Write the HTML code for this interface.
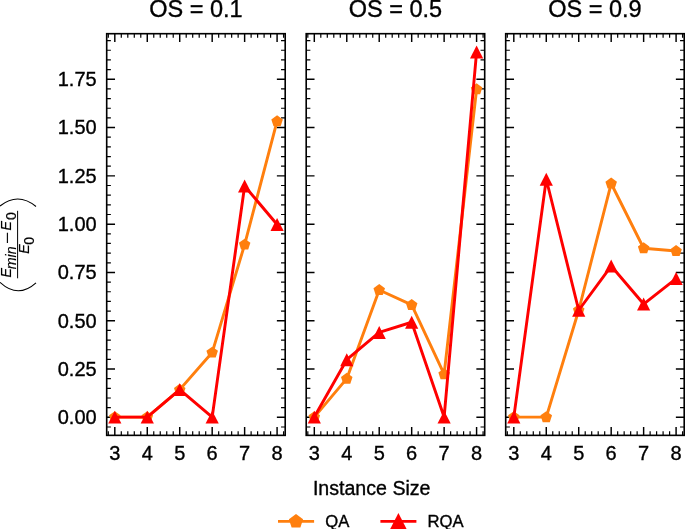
<!DOCTYPE html>
<html><head><meta charset="utf-8"><title>chart</title><style>html,body{margin:0;padding:0;background:#fff}svg{display:block}</style></head><body>
<svg width="685" height="529" viewBox="0 0 685 529">
<rect width="685" height="529" fill="#fff"/>
<clipPath id="c0"><rect x="106.7" y="33.7" width="178.5" height="401.65000000000003"/></clipPath>
<path d="M108.32 435.35v-4.17M108.32 33.7v4.17" stroke="#000" stroke-width="1.2"/><path d="M114.81 435.35v-8.33M114.81 33.7v8.33" stroke="#000" stroke-width="1.45"/><path d="M121.30 435.35v-4.17M121.30 33.7v4.17" stroke="#000" stroke-width="1.2"/><path d="M127.80 435.35v-4.17M127.80 33.7v4.17" stroke="#000" stroke-width="1.2"/><path d="M134.29 435.35v-4.17M134.29 33.7v4.17" stroke="#000" stroke-width="1.2"/><path d="M140.78 435.35v-4.17M140.78 33.7v4.17" stroke="#000" stroke-width="1.2"/><path d="M147.27 435.35v-8.33M147.27 33.7v8.33" stroke="#000" stroke-width="1.45"/><path d="M153.76 435.35v-4.17M153.76 33.7v4.17" stroke="#000" stroke-width="1.2"/><path d="M160.25 435.35v-4.17M160.25 33.7v4.17" stroke="#000" stroke-width="1.2"/><path d="M166.74 435.35v-4.17M166.74 33.7v4.17" stroke="#000" stroke-width="1.2"/><path d="M173.23 435.35v-4.17M173.23 33.7v4.17" stroke="#000" stroke-width="1.2"/><path d="M179.72 435.35v-8.33M179.72 33.7v8.33" stroke="#000" stroke-width="1.45"/><path d="M186.21 435.35v-4.17M186.21 33.7v4.17" stroke="#000" stroke-width="1.2"/><path d="M192.70 435.35v-4.17M192.70 33.7v4.17" stroke="#000" stroke-width="1.2"/><path d="M199.20 435.35v-4.17M199.20 33.7v4.17" stroke="#000" stroke-width="1.2"/><path d="M205.69 435.35v-4.17M205.69 33.7v4.17" stroke="#000" stroke-width="1.2"/><path d="M212.18 435.35v-8.33M212.18 33.7v8.33" stroke="#000" stroke-width="1.45"/><path d="M218.67 435.35v-4.17M218.67 33.7v4.17" stroke="#000" stroke-width="1.2"/><path d="M225.16 435.35v-4.17M225.16 33.7v4.17" stroke="#000" stroke-width="1.2"/><path d="M231.65 435.35v-4.17M231.65 33.7v4.17" stroke="#000" stroke-width="1.2"/><path d="M238.14 435.35v-4.17M238.14 33.7v4.17" stroke="#000" stroke-width="1.2"/><path d="M244.63 435.35v-8.33M244.63 33.7v8.33" stroke="#000" stroke-width="1.45"/><path d="M251.12 435.35v-4.17M251.12 33.7v4.17" stroke="#000" stroke-width="1.2"/><path d="M257.61 435.35v-4.17M257.61 33.7v4.17" stroke="#000" stroke-width="1.2"/><path d="M264.10 435.35v-4.17M264.10 33.7v4.17" stroke="#000" stroke-width="1.2"/><path d="M270.60 435.35v-4.17M270.60 33.7v4.17" stroke="#000" stroke-width="1.2"/><path d="M277.09 435.35v-8.33M277.09 33.7v8.33" stroke="#000" stroke-width="1.45"/><path d="M283.58 435.35v-4.17M283.58 33.7v4.17" stroke="#000" stroke-width="1.2"/><path d="M106.7 427.00h4.17M285.2 427.00h-4.17" stroke="#000" stroke-width="1.2"/><path d="M106.7 417.34h8.33M285.2 417.34h-8.33" stroke="#000" stroke-width="1.45"/><path d="M106.7 407.68h4.17M285.2 407.68h-4.17" stroke="#000" stroke-width="1.2"/><path d="M106.7 398.02h4.17M285.2 398.02h-4.17" stroke="#000" stroke-width="1.2"/><path d="M106.7 388.36h4.17M285.2 388.36h-4.17" stroke="#000" stroke-width="1.2"/><path d="M106.7 378.70h4.17M285.2 378.70h-4.17" stroke="#000" stroke-width="1.2"/><path d="M106.7 369.04h8.33M285.2 369.04h-8.33" stroke="#000" stroke-width="1.45"/><path d="M106.7 359.39h4.17M285.2 359.39h-4.17" stroke="#000" stroke-width="1.2"/><path d="M106.7 349.73h4.17M285.2 349.73h-4.17" stroke="#000" stroke-width="1.2"/><path d="M106.7 340.07h4.17M285.2 340.07h-4.17" stroke="#000" stroke-width="1.2"/><path d="M106.7 330.41h4.17M285.2 330.41h-4.17" stroke="#000" stroke-width="1.2"/><path d="M106.7 320.75h8.33M285.2 320.75h-8.33" stroke="#000" stroke-width="1.45"/><path d="M106.7 311.09h4.17M285.2 311.09h-4.17" stroke="#000" stroke-width="1.2"/><path d="M106.7 301.43h4.17M285.2 301.43h-4.17" stroke="#000" stroke-width="1.2"/><path d="M106.7 291.77h4.17M285.2 291.77h-4.17" stroke="#000" stroke-width="1.2"/><path d="M106.7 282.11h4.17M285.2 282.11h-4.17" stroke="#000" stroke-width="1.2"/><path d="M106.7 272.45h8.33M285.2 272.45h-8.33" stroke="#000" stroke-width="1.45"/><path d="M106.7 262.79h4.17M285.2 262.79h-4.17" stroke="#000" stroke-width="1.2"/><path d="M106.7 253.13h4.17M285.2 253.13h-4.17" stroke="#000" stroke-width="1.2"/><path d="M106.7 243.47h4.17M285.2 243.47h-4.17" stroke="#000" stroke-width="1.2"/><path d="M106.7 233.81h4.17M285.2 233.81h-4.17" stroke="#000" stroke-width="1.2"/><path d="M106.7 224.15h8.33M285.2 224.15h-8.33" stroke="#000" stroke-width="1.45"/><path d="M106.7 214.49h4.17M285.2 214.49h-4.17" stroke="#000" stroke-width="1.2"/><path d="M106.7 204.83h4.17M285.2 204.83h-4.17" stroke="#000" stroke-width="1.2"/><path d="M106.7 195.17h4.17M285.2 195.17h-4.17" stroke="#000" stroke-width="1.2"/><path d="M106.7 185.51h4.17M285.2 185.51h-4.17" stroke="#000" stroke-width="1.2"/><path d="M106.7 175.85h8.33M285.2 175.85h-8.33" stroke="#000" stroke-width="1.45"/><path d="M106.7 166.19h4.17M285.2 166.19h-4.17" stroke="#000" stroke-width="1.2"/><path d="M106.7 156.53h4.17M285.2 156.53h-4.17" stroke="#000" stroke-width="1.2"/><path d="M106.7 146.87h4.17M285.2 146.87h-4.17" stroke="#000" stroke-width="1.2"/><path d="M106.7 137.21h4.17M285.2 137.21h-4.17" stroke="#000" stroke-width="1.2"/><path d="M106.7 127.55h8.33M285.2 127.55h-8.33" stroke="#000" stroke-width="1.45"/><path d="M106.7 117.89h4.17M285.2 117.89h-4.17" stroke="#000" stroke-width="1.2"/><path d="M106.7 108.23h4.17M285.2 108.23h-4.17" stroke="#000" stroke-width="1.2"/><path d="M106.7 98.57h4.17M285.2 98.57h-4.17" stroke="#000" stroke-width="1.2"/><path d="M106.7 88.91h4.17M285.2 88.91h-4.17" stroke="#000" stroke-width="1.2"/><path d="M106.7 79.25h8.33M285.2 79.25h-8.33" stroke="#000" stroke-width="1.45"/><path d="M106.7 69.59h4.17M285.2 69.59h-4.17" stroke="#000" stroke-width="1.2"/><path d="M106.7 59.93h4.17M285.2 59.93h-4.17" stroke="#000" stroke-width="1.2"/><path d="M106.7 50.27h4.17M285.2 50.27h-4.17" stroke="#000" stroke-width="1.2"/><path d="M106.7 40.62h4.17M285.2 40.62h-4.17" stroke="#000" stroke-width="1.2"/>
<g clip-path="url(#c0)"><polyline points="114.81,417.09 147.27,417.09 179.72,389.66 212.18,352.57 244.63,244.57 277.09,121.12" fill="none" stroke="#ff7f0e" stroke-width="2.92" stroke-linejoin="round" stroke-linecap="butt"/><polygon points="114.81,411.19 120.57,415.37 118.37,422.14 111.26,422.14 109.06,415.37" fill="#ff7f0e"/><polygon points="147.27,411.19 153.02,415.37 150.82,422.14 143.71,422.14 141.51,415.37" fill="#ff7f0e"/><polygon points="179.72,383.76 185.48,387.94 183.28,394.70 176.17,394.70 173.97,387.94" fill="#ff7f0e"/><polygon points="212.18,346.67 217.93,350.85 215.73,357.61 208.62,357.61 206.42,350.85" fill="#ff7f0e"/><polygon points="244.63,238.67 250.39,242.85 248.19,249.62 241.08,249.62 238.88,242.85" fill="#ff7f0e"/><polygon points="277.09,115.22 282.84,119.40 280.64,126.16 273.53,126.16 271.33,119.40" fill="#ff7f0e"/><polyline points="114.81,417.09 147.27,417.09 179.72,389.66 212.18,417.09 244.63,186.03 277.09,224.48" fill="none" stroke="#ff0000" stroke-width="2.92" stroke-linejoin="round" stroke-linecap="butt"/><polygon points="114.81,410.64 108.21,423.54 121.41,423.54" fill="#ff0000"/><polygon points="147.27,410.64 140.67,423.54 153.87,423.54" fill="#ff0000"/><polygon points="179.72,383.21 173.12,396.11 186.32,396.11" fill="#ff0000"/><polygon points="212.18,410.64 205.58,423.54 218.78,423.54" fill="#ff0000"/><polygon points="244.63,179.58 238.03,192.48 251.23,192.48" fill="#ff0000"/><polygon points="277.09,218.03 270.49,230.93 283.69,230.93" fill="#ff0000"/></g>
<rect x="106.7" y="33.7" width="178.5" height="401.65000000000003" fill="none" stroke="#000" stroke-width="1.62"/>
<text x="114.81" y="459.7" font-family="Liberation Sans, Arial, Helvetica, sans-serif" stroke="#000" stroke-width="0.35" font-size="20" text-anchor="middle">3</text>
<text x="147.27" y="459.7" font-family="Liberation Sans, Arial, Helvetica, sans-serif" stroke="#000" stroke-width="0.35" font-size="20" text-anchor="middle">4</text>
<text x="179.72" y="459.7" font-family="Liberation Sans, Arial, Helvetica, sans-serif" stroke="#000" stroke-width="0.35" font-size="20" text-anchor="middle">5</text>
<text x="212.18" y="459.7" font-family="Liberation Sans, Arial, Helvetica, sans-serif" stroke="#000" stroke-width="0.35" font-size="20" text-anchor="middle">6</text>
<text x="244.63" y="459.7" font-family="Liberation Sans, Arial, Helvetica, sans-serif" stroke="#000" stroke-width="0.35" font-size="20" text-anchor="middle">7</text>
<text x="277.09" y="459.7" font-family="Liberation Sans, Arial, Helvetica, sans-serif" stroke="#000" stroke-width="0.35" font-size="20" text-anchor="middle">8</text>
<text x="195.95" y="17.3" font-family="Liberation Sans, Arial, Helvetica, sans-serif" stroke="#000" stroke-width="0.35" font-size="23.5" text-anchor="middle">OS = 0.1</text>
<clipPath id="c1"><rect x="306.2" y="33.7" width="178.5" height="401.65000000000003"/></clipPath>
<path d="M307.82 435.35v-4.17M307.82 33.7v4.17" stroke="#000" stroke-width="1.2"/><path d="M314.31 435.35v-8.33M314.31 33.7v8.33" stroke="#000" stroke-width="1.45"/><path d="M320.80 435.35v-4.17M320.80 33.7v4.17" stroke="#000" stroke-width="1.2"/><path d="M327.30 435.35v-4.17M327.30 33.7v4.17" stroke="#000" stroke-width="1.2"/><path d="M333.79 435.35v-4.17M333.79 33.7v4.17" stroke="#000" stroke-width="1.2"/><path d="M340.28 435.35v-4.17M340.28 33.7v4.17" stroke="#000" stroke-width="1.2"/><path d="M346.77 435.35v-8.33M346.77 33.7v8.33" stroke="#000" stroke-width="1.45"/><path d="M353.26 435.35v-4.17M353.26 33.7v4.17" stroke="#000" stroke-width="1.2"/><path d="M359.75 435.35v-4.17M359.75 33.7v4.17" stroke="#000" stroke-width="1.2"/><path d="M366.24 435.35v-4.17M366.24 33.7v4.17" stroke="#000" stroke-width="1.2"/><path d="M372.73 435.35v-4.17M372.73 33.7v4.17" stroke="#000" stroke-width="1.2"/><path d="M379.22 435.35v-8.33M379.22 33.7v8.33" stroke="#000" stroke-width="1.45"/><path d="M385.71 435.35v-4.17M385.71 33.7v4.17" stroke="#000" stroke-width="1.2"/><path d="M392.20 435.35v-4.17M392.20 33.7v4.17" stroke="#000" stroke-width="1.2"/><path d="M398.70 435.35v-4.17M398.70 33.7v4.17" stroke="#000" stroke-width="1.2"/><path d="M405.19 435.35v-4.17M405.19 33.7v4.17" stroke="#000" stroke-width="1.2"/><path d="M411.68 435.35v-8.33M411.68 33.7v8.33" stroke="#000" stroke-width="1.45"/><path d="M418.17 435.35v-4.17M418.17 33.7v4.17" stroke="#000" stroke-width="1.2"/><path d="M424.66 435.35v-4.17M424.66 33.7v4.17" stroke="#000" stroke-width="1.2"/><path d="M431.15 435.35v-4.17M431.15 33.7v4.17" stroke="#000" stroke-width="1.2"/><path d="M437.64 435.35v-4.17M437.64 33.7v4.17" stroke="#000" stroke-width="1.2"/><path d="M444.13 435.35v-8.33M444.13 33.7v8.33" stroke="#000" stroke-width="1.45"/><path d="M450.62 435.35v-4.17M450.62 33.7v4.17" stroke="#000" stroke-width="1.2"/><path d="M457.11 435.35v-4.17M457.11 33.7v4.17" stroke="#000" stroke-width="1.2"/><path d="M463.60 435.35v-4.17M463.60 33.7v4.17" stroke="#000" stroke-width="1.2"/><path d="M470.10 435.35v-4.17M470.10 33.7v4.17" stroke="#000" stroke-width="1.2"/><path d="M476.59 435.35v-8.33M476.59 33.7v8.33" stroke="#000" stroke-width="1.45"/><path d="M483.08 435.35v-4.17M483.08 33.7v4.17" stroke="#000" stroke-width="1.2"/><path d="M306.2 427.00h4.17M484.7 427.00h-4.17" stroke="#000" stroke-width="1.2"/><path d="M306.2 417.34h8.33M484.7 417.34h-8.33" stroke="#000" stroke-width="1.45"/><path d="M306.2 407.68h4.17M484.7 407.68h-4.17" stroke="#000" stroke-width="1.2"/><path d="M306.2 398.02h4.17M484.7 398.02h-4.17" stroke="#000" stroke-width="1.2"/><path d="M306.2 388.36h4.17M484.7 388.36h-4.17" stroke="#000" stroke-width="1.2"/><path d="M306.2 378.70h4.17M484.7 378.70h-4.17" stroke="#000" stroke-width="1.2"/><path d="M306.2 369.04h8.33M484.7 369.04h-8.33" stroke="#000" stroke-width="1.45"/><path d="M306.2 359.39h4.17M484.7 359.39h-4.17" stroke="#000" stroke-width="1.2"/><path d="M306.2 349.73h4.17M484.7 349.73h-4.17" stroke="#000" stroke-width="1.2"/><path d="M306.2 340.07h4.17M484.7 340.07h-4.17" stroke="#000" stroke-width="1.2"/><path d="M306.2 330.41h4.17M484.7 330.41h-4.17" stroke="#000" stroke-width="1.2"/><path d="M306.2 320.75h8.33M484.7 320.75h-8.33" stroke="#000" stroke-width="1.45"/><path d="M306.2 311.09h4.17M484.7 311.09h-4.17" stroke="#000" stroke-width="1.2"/><path d="M306.2 301.43h4.17M484.7 301.43h-4.17" stroke="#000" stroke-width="1.2"/><path d="M306.2 291.77h4.17M484.7 291.77h-4.17" stroke="#000" stroke-width="1.2"/><path d="M306.2 282.11h4.17M484.7 282.11h-4.17" stroke="#000" stroke-width="1.2"/><path d="M306.2 272.45h8.33M484.7 272.45h-8.33" stroke="#000" stroke-width="1.45"/><path d="M306.2 262.79h4.17M484.7 262.79h-4.17" stroke="#000" stroke-width="1.2"/><path d="M306.2 253.13h4.17M484.7 253.13h-4.17" stroke="#000" stroke-width="1.2"/><path d="M306.2 243.47h4.17M484.7 243.47h-4.17" stroke="#000" stroke-width="1.2"/><path d="M306.2 233.81h4.17M484.7 233.81h-4.17" stroke="#000" stroke-width="1.2"/><path d="M306.2 224.15h8.33M484.7 224.15h-8.33" stroke="#000" stroke-width="1.45"/><path d="M306.2 214.49h4.17M484.7 214.49h-4.17" stroke="#000" stroke-width="1.2"/><path d="M306.2 204.83h4.17M484.7 204.83h-4.17" stroke="#000" stroke-width="1.2"/><path d="M306.2 195.17h4.17M484.7 195.17h-4.17" stroke="#000" stroke-width="1.2"/><path d="M306.2 185.51h4.17M484.7 185.51h-4.17" stroke="#000" stroke-width="1.2"/><path d="M306.2 175.85h8.33M484.7 175.85h-8.33" stroke="#000" stroke-width="1.45"/><path d="M306.2 166.19h4.17M484.7 166.19h-4.17" stroke="#000" stroke-width="1.2"/><path d="M306.2 156.53h4.17M484.7 156.53h-4.17" stroke="#000" stroke-width="1.2"/><path d="M306.2 146.87h4.17M484.7 146.87h-4.17" stroke="#000" stroke-width="1.2"/><path d="M306.2 137.21h4.17M484.7 137.21h-4.17" stroke="#000" stroke-width="1.2"/><path d="M306.2 127.55h8.33M484.7 127.55h-8.33" stroke="#000" stroke-width="1.45"/><path d="M306.2 117.89h4.17M484.7 117.89h-4.17" stroke="#000" stroke-width="1.2"/><path d="M306.2 108.23h4.17M484.7 108.23h-4.17" stroke="#000" stroke-width="1.2"/><path d="M306.2 98.57h4.17M484.7 98.57h-4.17" stroke="#000" stroke-width="1.2"/><path d="M306.2 88.91h4.17M484.7 88.91h-4.17" stroke="#000" stroke-width="1.2"/><path d="M306.2 79.25h8.33M484.7 79.25h-8.33" stroke="#000" stroke-width="1.45"/><path d="M306.2 69.59h4.17M484.7 69.59h-4.17" stroke="#000" stroke-width="1.2"/><path d="M306.2 59.93h4.17M484.7 59.93h-4.17" stroke="#000" stroke-width="1.2"/><path d="M306.2 50.27h4.17M484.7 50.27h-4.17" stroke="#000" stroke-width="1.2"/><path d="M306.2 40.62h4.17M484.7 40.62h-4.17" stroke="#000" stroke-width="1.2"/>
<g clip-path="url(#c1)"><polyline points="314.31,417.09 346.77,378.65 379.22,289.97 411.68,304.85 444.13,374.20 476.59,89.24" fill="none" stroke="#ff7f0e" stroke-width="2.92" stroke-linejoin="round" stroke-linecap="butt"/><polygon points="314.31,411.19 320.07,415.37 317.87,422.14 310.76,422.14 308.56,415.37" fill="#ff7f0e"/><polygon points="346.77,372.75 352.52,376.93 350.32,383.69 343.21,383.69 341.01,376.93" fill="#ff7f0e"/><polygon points="379.22,284.07 384.98,288.25 382.78,295.02 375.67,295.02 373.47,288.25" fill="#ff7f0e"/><polygon points="411.68,298.95 417.43,303.13 415.23,309.89 408.12,309.89 405.92,303.13" fill="#ff7f0e"/><polygon points="444.13,368.30 449.89,372.48 447.69,379.25 440.58,379.25 438.38,372.48" fill="#ff7f0e"/><polygon points="476.59,83.34 482.34,87.52 480.14,94.29 473.03,94.29 470.83,87.52" fill="#ff7f0e"/><polyline points="314.31,417.09 346.77,359.71 379.22,332.47 411.68,322.24 444.13,417.09 476.59,51.96" fill="none" stroke="#ff0000" stroke-width="2.92" stroke-linejoin="round" stroke-linecap="butt"/><polygon points="314.31,410.64 307.71,423.54 320.91,423.54" fill="#ff0000"/><polygon points="346.77,353.26 340.17,366.16 353.37,366.16" fill="#ff0000"/><polygon points="379.22,326.02 372.62,338.92 385.82,338.92" fill="#ff0000"/><polygon points="411.68,315.79 405.08,328.69 418.28,328.69" fill="#ff0000"/><polygon points="444.13,410.64 437.53,423.54 450.73,423.54" fill="#ff0000"/><polygon points="476.59,45.51 469.99,58.41 483.19,58.41" fill="#ff0000"/></g>
<rect x="306.2" y="33.7" width="178.5" height="401.65000000000003" fill="none" stroke="#000" stroke-width="1.62"/>
<text x="314.31" y="459.7" font-family="Liberation Sans, Arial, Helvetica, sans-serif" stroke="#000" stroke-width="0.35" font-size="20" text-anchor="middle">3</text>
<text x="346.77" y="459.7" font-family="Liberation Sans, Arial, Helvetica, sans-serif" stroke="#000" stroke-width="0.35" font-size="20" text-anchor="middle">4</text>
<text x="379.22" y="459.7" font-family="Liberation Sans, Arial, Helvetica, sans-serif" stroke="#000" stroke-width="0.35" font-size="20" text-anchor="middle">5</text>
<text x="411.68" y="459.7" font-family="Liberation Sans, Arial, Helvetica, sans-serif" stroke="#000" stroke-width="0.35" font-size="20" text-anchor="middle">6</text>
<text x="444.13" y="459.7" font-family="Liberation Sans, Arial, Helvetica, sans-serif" stroke="#000" stroke-width="0.35" font-size="20" text-anchor="middle">7</text>
<text x="476.59" y="459.7" font-family="Liberation Sans, Arial, Helvetica, sans-serif" stroke="#000" stroke-width="0.35" font-size="20" text-anchor="middle">8</text>
<text x="395.45" y="17.3" font-family="Liberation Sans, Arial, Helvetica, sans-serif" stroke="#000" stroke-width="0.35" font-size="23.5" text-anchor="middle">OS = 0.5</text>
<clipPath id="c2"><rect x="505.7" y="33.7" width="178.50000000000006" height="401.65000000000003"/></clipPath>
<path d="M507.32 435.35v-4.17M507.32 33.7v4.17" stroke="#000" stroke-width="1.2"/><path d="M513.81 435.35v-8.33M513.81 33.7v8.33" stroke="#000" stroke-width="1.45"/><path d="M520.30 435.35v-4.17M520.30 33.7v4.17" stroke="#000" stroke-width="1.2"/><path d="M526.80 435.35v-4.17M526.80 33.7v4.17" stroke="#000" stroke-width="1.2"/><path d="M533.29 435.35v-4.17M533.29 33.7v4.17" stroke="#000" stroke-width="1.2"/><path d="M539.78 435.35v-4.17M539.78 33.7v4.17" stroke="#000" stroke-width="1.2"/><path d="M546.27 435.35v-8.33M546.27 33.7v8.33" stroke="#000" stroke-width="1.45"/><path d="M552.76 435.35v-4.17M552.76 33.7v4.17" stroke="#000" stroke-width="1.2"/><path d="M559.25 435.35v-4.17M559.25 33.7v4.17" stroke="#000" stroke-width="1.2"/><path d="M565.74 435.35v-4.17M565.74 33.7v4.17" stroke="#000" stroke-width="1.2"/><path d="M572.23 435.35v-4.17M572.23 33.7v4.17" stroke="#000" stroke-width="1.2"/><path d="M578.72 435.35v-8.33M578.72 33.7v8.33" stroke="#000" stroke-width="1.45"/><path d="M585.21 435.35v-4.17M585.21 33.7v4.17" stroke="#000" stroke-width="1.2"/><path d="M591.70 435.35v-4.17M591.70 33.7v4.17" stroke="#000" stroke-width="1.2"/><path d="M598.20 435.35v-4.17M598.20 33.7v4.17" stroke="#000" stroke-width="1.2"/><path d="M604.69 435.35v-4.17M604.69 33.7v4.17" stroke="#000" stroke-width="1.2"/><path d="M611.18 435.35v-8.33M611.18 33.7v8.33" stroke="#000" stroke-width="1.45"/><path d="M617.67 435.35v-4.17M617.67 33.7v4.17" stroke="#000" stroke-width="1.2"/><path d="M624.16 435.35v-4.17M624.16 33.7v4.17" stroke="#000" stroke-width="1.2"/><path d="M630.65 435.35v-4.17M630.65 33.7v4.17" stroke="#000" stroke-width="1.2"/><path d="M637.14 435.35v-4.17M637.14 33.7v4.17" stroke="#000" stroke-width="1.2"/><path d="M643.63 435.35v-8.33M643.63 33.7v8.33" stroke="#000" stroke-width="1.45"/><path d="M650.12 435.35v-4.17M650.12 33.7v4.17" stroke="#000" stroke-width="1.2"/><path d="M656.61 435.35v-4.17M656.61 33.7v4.17" stroke="#000" stroke-width="1.2"/><path d="M663.10 435.35v-4.17M663.10 33.7v4.17" stroke="#000" stroke-width="1.2"/><path d="M669.60 435.35v-4.17M669.60 33.7v4.17" stroke="#000" stroke-width="1.2"/><path d="M676.09 435.35v-8.33M676.09 33.7v8.33" stroke="#000" stroke-width="1.45"/><path d="M682.58 435.35v-4.17M682.58 33.7v4.17" stroke="#000" stroke-width="1.2"/><path d="M505.7 427.00h4.17M684.2 427.00h-4.17" stroke="#000" stroke-width="1.2"/><path d="M505.7 417.34h8.33M684.2 417.34h-8.33" stroke="#000" stroke-width="1.45"/><path d="M505.7 407.68h4.17M684.2 407.68h-4.17" stroke="#000" stroke-width="1.2"/><path d="M505.7 398.02h4.17M684.2 398.02h-4.17" stroke="#000" stroke-width="1.2"/><path d="M505.7 388.36h4.17M684.2 388.36h-4.17" stroke="#000" stroke-width="1.2"/><path d="M505.7 378.70h4.17M684.2 378.70h-4.17" stroke="#000" stroke-width="1.2"/><path d="M505.7 369.04h8.33M684.2 369.04h-8.33" stroke="#000" stroke-width="1.45"/><path d="M505.7 359.39h4.17M684.2 359.39h-4.17" stroke="#000" stroke-width="1.2"/><path d="M505.7 349.73h4.17M684.2 349.73h-4.17" stroke="#000" stroke-width="1.2"/><path d="M505.7 340.07h4.17M684.2 340.07h-4.17" stroke="#000" stroke-width="1.2"/><path d="M505.7 330.41h4.17M684.2 330.41h-4.17" stroke="#000" stroke-width="1.2"/><path d="M505.7 320.75h8.33M684.2 320.75h-8.33" stroke="#000" stroke-width="1.45"/><path d="M505.7 311.09h4.17M684.2 311.09h-4.17" stroke="#000" stroke-width="1.2"/><path d="M505.7 301.43h4.17M684.2 301.43h-4.17" stroke="#000" stroke-width="1.2"/><path d="M505.7 291.77h4.17M684.2 291.77h-4.17" stroke="#000" stroke-width="1.2"/><path d="M505.7 282.11h4.17M684.2 282.11h-4.17" stroke="#000" stroke-width="1.2"/><path d="M505.7 272.45h8.33M684.2 272.45h-8.33" stroke="#000" stroke-width="1.45"/><path d="M505.7 262.79h4.17M684.2 262.79h-4.17" stroke="#000" stroke-width="1.2"/><path d="M505.7 253.13h4.17M684.2 253.13h-4.17" stroke="#000" stroke-width="1.2"/><path d="M505.7 243.47h4.17M684.2 243.47h-4.17" stroke="#000" stroke-width="1.2"/><path d="M505.7 233.81h4.17M684.2 233.81h-4.17" stroke="#000" stroke-width="1.2"/><path d="M505.7 224.15h8.33M684.2 224.15h-8.33" stroke="#000" stroke-width="1.45"/><path d="M505.7 214.49h4.17M684.2 214.49h-4.17" stroke="#000" stroke-width="1.2"/><path d="M505.7 204.83h4.17M684.2 204.83h-4.17" stroke="#000" stroke-width="1.2"/><path d="M505.7 195.17h4.17M684.2 195.17h-4.17" stroke="#000" stroke-width="1.2"/><path d="M505.7 185.51h4.17M684.2 185.51h-4.17" stroke="#000" stroke-width="1.2"/><path d="M505.7 175.85h8.33M684.2 175.85h-8.33" stroke="#000" stroke-width="1.45"/><path d="M505.7 166.19h4.17M684.2 166.19h-4.17" stroke="#000" stroke-width="1.2"/><path d="M505.7 156.53h4.17M684.2 156.53h-4.17" stroke="#000" stroke-width="1.2"/><path d="M505.7 146.87h4.17M684.2 146.87h-4.17" stroke="#000" stroke-width="1.2"/><path d="M505.7 137.21h4.17M684.2 137.21h-4.17" stroke="#000" stroke-width="1.2"/><path d="M505.7 127.55h8.33M684.2 127.55h-8.33" stroke="#000" stroke-width="1.45"/><path d="M505.7 117.89h4.17M684.2 117.89h-4.17" stroke="#000" stroke-width="1.2"/><path d="M505.7 108.23h4.17M684.2 108.23h-4.17" stroke="#000" stroke-width="1.2"/><path d="M505.7 98.57h4.17M684.2 98.57h-4.17" stroke="#000" stroke-width="1.2"/><path d="M505.7 88.91h4.17M684.2 88.91h-4.17" stroke="#000" stroke-width="1.2"/><path d="M505.7 79.25h8.33M684.2 79.25h-8.33" stroke="#000" stroke-width="1.45"/><path d="M505.7 69.59h4.17M684.2 69.59h-4.17" stroke="#000" stroke-width="1.2"/><path d="M505.7 59.93h4.17M684.2 59.93h-4.17" stroke="#000" stroke-width="1.2"/><path d="M505.7 50.27h4.17M684.2 50.27h-4.17" stroke="#000" stroke-width="1.2"/><path d="M505.7 40.62h4.17M684.2 40.62h-4.17" stroke="#000" stroke-width="1.2"/>
<g clip-path="url(#c2)"><polyline points="513.81,417.09 546.27,417.09 578.72,310.26 611.18,183.52 643.63,248.24 676.09,250.95" fill="none" stroke="#ff7f0e" stroke-width="2.92" stroke-linejoin="round" stroke-linecap="butt"/><polygon points="513.81,411.19 519.57,415.37 517.37,422.14 510.26,422.14 508.06,415.37" fill="#ff7f0e"/><polygon points="546.27,411.19 552.02,415.37 549.82,422.14 542.71,422.14 540.51,415.37" fill="#ff7f0e"/><polygon points="578.72,304.36 584.48,308.54 582.28,315.30 575.17,315.30 572.97,308.54" fill="#ff7f0e"/><polygon points="611.18,177.62 616.93,181.80 614.73,188.57 607.62,188.57 605.42,181.80" fill="#ff7f0e"/><polygon points="643.63,242.34 649.39,246.52 647.19,253.29 640.08,253.29 637.88,246.52" fill="#ff7f0e"/><polygon points="676.09,245.05 681.84,249.23 679.64,255.99 672.53,255.99 670.33,249.23" fill="#ff7f0e"/><polyline points="513.81,417.09 546.27,179.27 578.72,310.26 611.18,266.02 643.63,304.07 676.09,278.57" fill="none" stroke="#ff0000" stroke-width="2.92" stroke-linejoin="round" stroke-linecap="butt"/><polygon points="513.81,410.64 507.21,423.54 520.41,423.54" fill="#ff0000"/><polygon points="546.27,172.82 539.67,185.72 552.87,185.72" fill="#ff0000"/><polygon points="578.72,303.81 572.12,316.71 585.32,316.71" fill="#ff0000"/><polygon points="611.18,259.57 604.58,272.47 617.78,272.47" fill="#ff0000"/><polygon points="643.63,297.62 637.03,310.52 650.23,310.52" fill="#ff0000"/><polygon points="676.09,272.12 669.49,285.02 682.69,285.02" fill="#ff0000"/></g>
<rect x="505.7" y="33.7" width="178.50000000000006" height="401.65000000000003" fill="none" stroke="#000" stroke-width="1.62"/>
<text x="513.81" y="459.7" font-family="Liberation Sans, Arial, Helvetica, sans-serif" stroke="#000" stroke-width="0.35" font-size="20" text-anchor="middle">3</text>
<text x="546.27" y="459.7" font-family="Liberation Sans, Arial, Helvetica, sans-serif" stroke="#000" stroke-width="0.35" font-size="20" text-anchor="middle">4</text>
<text x="578.72" y="459.7" font-family="Liberation Sans, Arial, Helvetica, sans-serif" stroke="#000" stroke-width="0.35" font-size="20" text-anchor="middle">5</text>
<text x="611.18" y="459.7" font-family="Liberation Sans, Arial, Helvetica, sans-serif" stroke="#000" stroke-width="0.35" font-size="20" text-anchor="middle">6</text>
<text x="643.63" y="459.7" font-family="Liberation Sans, Arial, Helvetica, sans-serif" stroke="#000" stroke-width="0.35" font-size="20" text-anchor="middle">7</text>
<text x="676.09" y="459.7" font-family="Liberation Sans, Arial, Helvetica, sans-serif" stroke="#000" stroke-width="0.35" font-size="20" text-anchor="middle">8</text>
<text x="594.95" y="17.3" font-family="Liberation Sans, Arial, Helvetica, sans-serif" stroke="#000" stroke-width="0.35" font-size="23.5" text-anchor="middle">OS = 0.9</text>
<text x="96.7" y="424.19" font-family="Liberation Sans, Arial, Helvetica, sans-serif" stroke="#000" stroke-width="0.35" font-size="20" text-anchor="end">0.00</text>
<text x="96.7" y="375.89" font-family="Liberation Sans, Arial, Helvetica, sans-serif" stroke="#000" stroke-width="0.35" font-size="20" text-anchor="end">0.25</text>
<text x="96.7" y="327.60" font-family="Liberation Sans, Arial, Helvetica, sans-serif" stroke="#000" stroke-width="0.35" font-size="20" text-anchor="end">0.50</text>
<text x="96.7" y="279.30" font-family="Liberation Sans, Arial, Helvetica, sans-serif" stroke="#000" stroke-width="0.35" font-size="20" text-anchor="end">0.75</text>
<text x="96.7" y="231.00" font-family="Liberation Sans, Arial, Helvetica, sans-serif" stroke="#000" stroke-width="0.35" font-size="20" text-anchor="end">1.00</text>
<text x="96.7" y="182.70" font-family="Liberation Sans, Arial, Helvetica, sans-serif" stroke="#000" stroke-width="0.35" font-size="20" text-anchor="end">1.25</text>
<text x="96.7" y="134.40" font-family="Liberation Sans, Arial, Helvetica, sans-serif" stroke="#000" stroke-width="0.35" font-size="20" text-anchor="end">1.50</text>
<text x="96.7" y="86.10" font-family="Liberation Sans, Arial, Helvetica, sans-serif" stroke="#000" stroke-width="0.35" font-size="20" text-anchor="end">1.75</text>
<text x="371.7" y="494.9" font-family="Liberation Sans, Arial, Helvetica, sans-serif" stroke="#000" stroke-width="0.35" font-size="19.6" text-anchor="middle">Instance Size</text>
<path d="M278.0 521.4H314.1" stroke="#ff7f0e" stroke-width="2.92"/><polygon points="296.00,514.05 303.09,519.20 300.38,527.53 291.62,527.53 288.91,519.20" fill="#ff7f0e"/>
<text x="325.2" y="526.6" font-family="Liberation Sans, Arial, Helvetica, sans-serif" stroke="#000" stroke-width="0.35" font-size="16.67">QA</text>
<path d="M380.4 521.4H416.4" stroke="#ff0000" stroke-width="2.92"/><polygon points="398.40,512.90 389.95,529.50 406.85,529.50" fill="#ff0000"/>
<text x="427.4" y="526.6" font-family="Liberation Sans, Arial, Helvetica, sans-serif" stroke="#000" stroke-width="0.35" font-size="16.67">RQA</text>
<text transform="translate(11.0,277.5) rotate(-90)" font-family="Liberation Sans, Arial, Helvetica, sans-serif" stroke="#000" stroke-width="0.15" font-size="14.2" font-style="italic">E</text><text transform="translate(16.3,269.3) rotate(-90)" font-family="Liberation Sans, Arial, Helvetica, sans-serif" stroke="#000" stroke-width="0.15" font-size="14.2" font-style="italic">min</text><text transform="translate(11.8,244.3) rotate(-90) scale(1.45,1)" font-family="Liberation Sans, Arial, Helvetica, sans-serif" stroke="#000" stroke-width="0.15" font-size="14.2">−</text><text transform="translate(11.0,230.5) rotate(-90)" font-family="Liberation Sans, Arial, Helvetica, sans-serif" stroke="#000" stroke-width="0.15" font-size="14.2" font-style="italic">E</text><text transform="translate(16.0,219.9) rotate(-90)" font-family="Liberation Sans, Arial, Helvetica, sans-serif" stroke="#000" stroke-width="0.15" font-size="14.2">0</text><text transform="translate(28.8,253.8) rotate(-90)" font-family="Liberation Sans, Arial, Helvetica, sans-serif" stroke="#000" stroke-width="0.15" font-size="14.2" font-style="italic">E</text><text transform="translate(33.9,244.8) rotate(-90)" font-family="Liberation Sans, Arial, Helvetica, sans-serif" stroke="#000" stroke-width="0.15" font-size="14.2">0</text><path d="M17.6 278.3V210.8" stroke="#000" stroke-width="1"/><path d="M0 282.3 Q18 299 36 282.8" fill="none" stroke="#000" stroke-width="1.1"/><path d="M0 206 Q18 191.8 36 206.5" fill="none" stroke="#000" stroke-width="1.1"/>
</svg>
</body></html>
